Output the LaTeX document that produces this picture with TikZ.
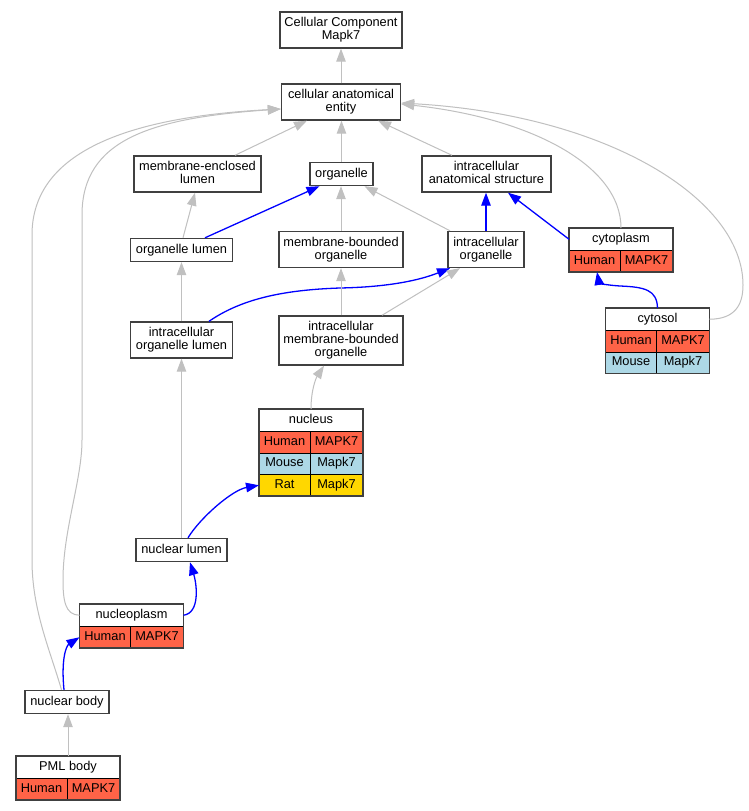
\documentclass[tikz,border=0pt]{standalone}
\usepackage{fontspec}
\setmainfont{Liberation Sans}
\usetikzlibrary{arrows.meta}
\definecolor{edgegray}{HTML}{C0C0C0}
\definecolor{nodeframe}{HTML}{404040}
\definecolor{human}{HTML}{FF6347}
\definecolor{mouse}{HTML}{ADD8E6}
\definecolor{rat}{HTML}{FFD700}
\newcommand{\gfont}{\fontsize{12.8}{13}\selectfont}
\newcommand{\gstrut}{\rule[-3pt]{0pt}{12.2pt}}
\newcommand{\grow}[5]{%
  \node[gcell, fill=#3, minimum width=51pt] (#1s) at (#2) {\gstrut #4};
  \node[gcell, fill=#3, minimum width=53pt] (#1g) at (#1s.north east) {\gstrut #5};}
\tikzset{
  gbox/.style={draw=nodeframe, line width=1.4pt, fill=white, inner sep=0pt, align=center, font=\gfont},
  gcell/.style={draw=black, line width=0.9pt, inner sep=0pt, outer sep=0pt, font=\gfont, minimum height=21.5pt, anchor=north west},
  ghead/.style={gcell, fill=white, minimum width=104pt, minimum height=22.5pt},
  gframe/.style={draw=nodeframe, line width=1.4pt},
  isa/.style={draw=edgegray, line width=1pt, -{Triangle[length=13pt,width=9.5pt]}},
  partof/.style={draw=blue, line width=1.3pt, -{Triangle[length=13pt,width=9.5pt]}},
}
\begin{document}
\begin{tikzpicture}[x=1pt, y=-1pt]
\fill[white] (0,0) rectangle (749,811);
\useasboundingbox (0,0) rectangle (749,811);

% plain nodes
\node[gbox, minimum width=122pt, minimum height=36pt] (cc) at (341,30) {\gstrut Cellular Component\\\gstrut Mapk7};
\node[gbox, minimum width=119pt, minimum height=36pt] (cae) at (341,102) {\gstrut cellular anatomical\\\gstrut entity};
\node[gbox, minimum width=127pt, minimum height=36pt] (mel) at (197.5,174) {\gstrut membrane-enclosed\\\gstrut lumen};
\node[gbox, minimum width=63pt, minimum height=23pt] (organelle) at (341.5,174) {\gstrut organelle};
\node[gbox, minimum width=129pt, minimum height=36pt] (ias) at (486.5,174) {\gstrut intracellular\\\gstrut anatomical structure};
\node[gbox, minimum width=102pt, minimum height=23pt] (orgl) at (181.5,250) {\gstrut organelle lumen};
\node[gbox, minimum width=124pt, minimum height=36pt] (mbo) at (341,249.5) {\gstrut membrane-bounded\\\gstrut organelle};
\node[gbox, minimum width=76pt, minimum height=36pt] (io) at (486,249.5) {\gstrut intracellular\\\gstrut organelle};
\node[gbox, minimum width=102pt, minimum height=36pt] (iol) at (181.5,340) {\gstrut intracellular\\\gstrut organelle lumen};
\node[gbox, minimum width=124pt, minimum height=49pt] (imbo) at (341,340.5) {\gstrut intracellular\\\gstrut membrane-bounded\\\gstrut organelle};
\node[gbox, minimum width=91pt, minimum height=23pt] (nuclearlumen) at (181.5,550) {\gstrut nuclear lumen};
\node[gbox, minimum width=84pt, minimum height=23pt] (nuclearbody) at (67,702) {\gstrut nuclear body};

% table nodes
\node[ghead] (cytoplasm) at (569,228) {\gstrut cytoplasm};
\grow{cytoplasmH}{cytoplasm.south west}{human}{Human}{MAPK7}
\draw[gframe] (cytoplasm.north west) rectangle (cytoplasmHg.south east);

\node[ghead] (cytosol) at (605.5,308) {\gstrut cytosol};
\grow{cytosolH}{cytosol.south west}{human}{Human}{MAPK7}
\grow{cytosolM}{cytosolHs.south west}{mouse}{Mouse}{Mapk7}
\draw[gframe] (cytosol.north west) rectangle (cytosolMg.south east);

\node[ghead] (nucleus) at (259,409) {\gstrut nucleus};
\grow{nucleusH}{nucleus.south west}{human}{Human}{MAPK7}
\grow{nucleusM}{nucleusHs.south west}{mouse}{Mouse}{Mapk7}
\grow{nucleusR}{nucleusMs.south west}{rat}{Rat}{Mapk7}
\draw[gframe] (nucleus.north west) rectangle (nucleusRg.south east);

\node[ghead] (nucleoplasm) at (79.5,604) {\gstrut nucleoplasm};
\grow{nucleoplasmH}{nucleoplasm.south west}{human}{Human}{MAPK7}
\draw[gframe] (nucleoplasm.north west) rectangle (nucleoplasmHg.south east);

\node[ghead] (pml) at (16,756) {\gstrut PML body};
\grow{pmlH}{pml.south west}{human}{Human}{MAPK7}
\draw[gframe] (pml.north west) rectangle (pmlHg.south east);

% edges
\draw[isa] (cae.north) -- (cae.north |- cc.south);
\draw[isa] ([xshift=37.5pt]mel.north) -- ([xshift=-34pt]cae.south);
\draw[isa] (organelle.north) -- (organelle.north |- cae.south);
\draw[isa] ([xshift=-34.5pt]ias.north) -- ([xshift=37pt]cae.south);
\draw[isa] ([xshift=1.5pt]orgl.north) -- ([xshift=-2.5pt]mel.south);
\draw[partof] ([xshift=23.5pt]orgl.north) -- ([xshift=-22pt]organelle.south);
\draw[isa] (mbo.north) -- (mbo.north |- organelle.south);
\draw[isa] ([xshift=-36pt]io.north) -- ([xshift=23pt]organelle.south);
\draw[partof] (io.north) -- (io.north |- ias.south);
\draw[partof] (cytoplasm.west) -- ([xshift=21.5pt]ias.south);
\draw[isa] (cytoplasm.north) .. controls (621,165) and (530,118) .. ([yshift=-2pt]cae.east);
\draw[isa] (cytosol.east) .. controls (735,319) and (743,305) .. (743,285) .. controls (743,200) and (610,115) .. ([yshift=-1pt]cae.east);
\draw[partof] (cytosol.north) .. controls (657,290) and (645,287) .. (620,286) .. controls (605,285) and (599,283) .. ([xshift=2.5pt]cytoplasmHs.south);
\draw[isa] (iol.north) -- (orgl.south);
\draw[partof] ([xshift=27.5pt]iol.north) .. controls (240,300) and (280,290) .. (340,288) .. controls (390,287) and (420,280) .. ([xshift=-36pt]io.south);
\draw[isa] (imbo.north) -- (imbo.north |- mbo.south);
\draw[isa] ([xshift=41pt]imbo.north) -- ([xshift=-26pt]io.south);
\draw[isa] (nucleus.north) .. controls (311,390) and (316,378) .. ([xshift=-17pt]imbo.south);
\draw[isa] (nuclearlumen.north) -- (iol.south);
\draw[partof] ([xshift=6.5pt]nuclearlumen.north) .. controls (200,518) and (232,490) .. (nucleusRs.west);
\draw[partof] (nucleoplasm.east) .. controls (200,613) and (197,585) .. ([xshift=8.5pt]nuclearlumen.south);
\draw[isa] (nucleoplasm.west) .. controls (65,615) and (63,600) .. (63,580) .. controls (63,530) and (82,480) .. (82,440) -- (82,215) .. controls (82,140) and (150,118) .. ([yshift=-7pt]cae.west);
\draw[isa] ([xshift=-5.5pt]nuclearbody.north) .. controls (50,650) and (32,610) .. (32,560) -- (32,235) .. controls (32,160) and (110,118) .. ([yshift=-7pt]cae.west);
\draw[partof] ([xshift=-3pt]nuclearbody.north) .. controls (61,660) and (66,646) .. (nucleoplasmHs.west);
\draw[isa] (pml.north) -- (pml.north |- nuclearbody.south);
\end{tikzpicture}
\end{document}
